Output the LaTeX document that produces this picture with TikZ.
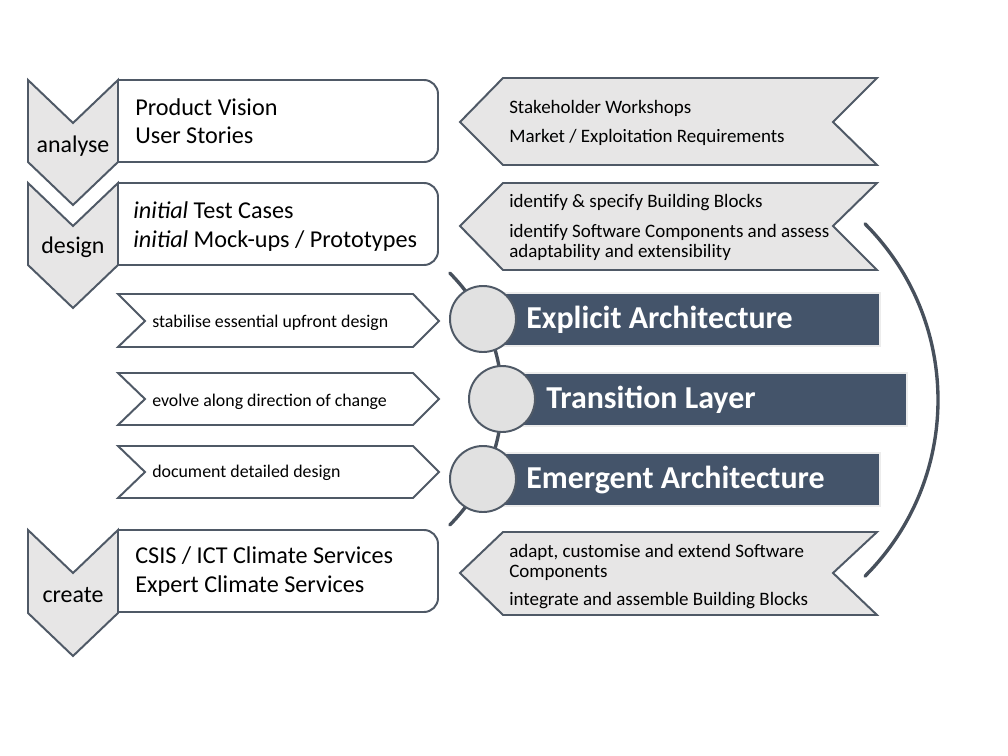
\documentclass[tikz,border=0pt]{standalone}
\usepackage{fontspec}
\setmainfont{Carlito}
\usepackage{tikz}
\usetikzlibrary{positioning, shapes}
\definecolor{slate}{HTML}{44546A}
\definecolor{edgegray}{HTML}{4F5966}
\definecolor{palegray}{HTML}{E7E6E6}
\definecolor{ballgray}{HTML}{E1E1E1}
\tikzset{
  outline/.style={draw=edgegray, line width=1.4pt, line join=miter},
  phase/.style={outline, fill=palegray},
  bigtxt/.style={anchor=base west, inner sep=0pt, font=\fontsize{17.2}{20}\selectfont},
  phasetxt/.style={anchor=base, inner sep=0pt, font=\fontsize{17}{20}\selectfont},
  smalltxt/.style={anchor=base west, inner sep=0pt, font=\fontsize{12.7}{15}\selectfont},
  sidetxt/.style={anchor=base west, inner sep=0pt, font=\fontsize{13.5}{16}\selectfont},
  layer/.style={fill=slate, draw=gray!15, line width=1.2pt},
  layertxt/.style={anchor=base west, inner sep=0pt, text=white, font=\bfseries\fontsize{22.7}{27}\selectfont},
  ball/.style={circle, outline, fill=ballgray, minimum size=1.65cm, inner sep=0pt},
  spine/.style={draw=edgegray!90!black, line width=2.4pt, line cap=round}}

\begin{document}
\begin{tikzpicture}[x=0.025cm, y=-0.025cm]
\useasboundingbox (0,0) rectangle (1008,756);

% left column: phases and their results
\draw [outline, rounded corners=10] (118,80) -- (438,80) -- (438,162) -- (118,162);
\draw [outline, rounded corners=10] (118,183) -- (438,183) -- (438,265) -- (118,265);
\draw [outline, rounded corners=10] (118,530) -- (438,530) -- (438,612) -- (118,612);
\draw [phase] (28,80) -- (73,123) -- (118,80) -- (118,162) -- (73,205) -- (28,162) -- cycle;
\draw [phase] (28,183) -- (73,226) -- (118,183) -- (118,265) -- (73,308) -- (28,265) -- cycle;
\draw [phase] (28,530) -- (73,573) -- (118,530) -- (118,613) -- (73,656) -- (28,613) -- cycle;
\node [phasetxt] (analyse) at (73,152) {analyse};
\node [phasetxt] (design) at (73,253) {design};
\node [phasetxt] (create) at (73,602) {create};
\node [bigtxt] (vision) at (135,115) {Product Vision};
\node [bigtxt] (stories) at (135,143) {User Stories};
\node [bigtxt] (tests) at (133,218) {\textit{initial} Test Cases};
\node [bigtxt] (mockups) at (133,247) {\textit{initial} Mock-ups / Prototypes};
\node [bigtxt] (csis) at (135,563) {CSIS / ICT Climate Services};
\node [bigtxt] (expert) at (135,592) {Expert Climate Services};

% middle column: design steps
\draw [outline] (118,294) -- (413,294) -- (439,321) -- (413,347) -- (118,347) -- (145,321) -- cycle;
\draw [outline] (118,373) -- (413,373) -- (439,399) -- (413,425) -- (118,425) -- (145,399) -- cycle;
\draw [outline] (118,446) -- (413,446) -- (439,472) -- (413,498) -- (118,498) -- (145,472) -- cycle;
\node [smalltxt] (stabilise) at (152,327) {stabilise essential upfront design};
\node [smalltxt] (evolve) at (152,406) {evolve along direction of change};
\node [smalltxt] (document) at (152,477) {document detailed design};

% right column: activities
\draw [phase] (460,122) -- (503,78) -- (877,78) -- (833,122) -- (877,165) -- (503,165) -- cycle;
\draw [phase] (460,226) -- (503,183) -- (877,183) -- (833,226) -- (877,270) -- (503,270) -- cycle;
\draw [phase] (460,573) -- (503,532) -- (877,532) -- (833,573) -- (877,615) -- (503,615) -- cycle;
\node [sidetxt] (workshops) at (509,113) {Stakeholder Workshops};
\node [sidetxt] (market) at (509,142) {Market / Exploitation Requirements};
\node [sidetxt] (identify) at (509,207) {identify \& specify Building Blocks};
\node [sidetxt] (assess) at (509,237) {identify Software Components and assess};
\node [sidetxt] (adapt) at (509,257) {adaptability and extensibility};
\node [sidetxt] (customise) at (509,557) {adapt, customise and extend Software};
\node [sidetxt] (components) at (509,577) {Components};
\node [sidetxt] (integrate) at (509,605) {integrate and assemble Building Blocks};

% architecture layers
\draw [spine] (324,399) ++(-45:178) arc [start angle=-45, end angle=45, radius=178];
\draw [spine] (689,400) ++(-45:249) arc [start angle=-45, end angle=45, radius=249];
\draw [layer] (495,293) rectangle (880,346);
\draw [layer] (510,373) rectangle (907,426);
\draw [layer] (495,453) rectangle (880,506);
\node [ball] (explicitball) at (483,319) {};
\node [ball] (transitionball) at (502,399) {};
\node [ball] (emergentball) at (483,479) {};
\node [layertxt] (explicit) at (526,328) {Explicit Architecture};
\node [layertxt] (transition) at (546,408) {Transition Layer};
\node [layertxt] (emergent) at (526,488) {Emergent Architecture};
\end{tikzpicture}
\end{document}
